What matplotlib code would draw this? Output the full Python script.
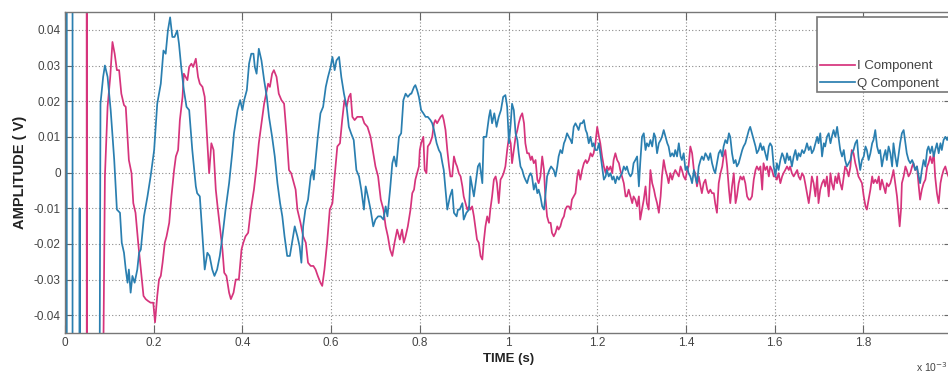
"""I/Q components of a decaying, noisy response (MATLAB-style scope plot)."""

import matplotlib

matplotlib.use("Agg")
import matplotlib.pyplot as plt
from matplotlib.ticker import FuncFormatter

plt.rcParams["font.family"] = ["Liberation Sans", "DejaVu Sans"]

I_COLOR = "#d6347c"
Q_COLOR = "#2a7fb0"
TEXT = "#444444"
FRAME = "#777777"

# time axis is in units of 10^-3 s; +/-0.1 marks off-scale samples at start-up
i_time = [
    0.002, 0.002, 0.003, 0.049, 0.049, 0.0495, 0.083,
    0.090, 0.096, 0.102, 0.107, 0.112, 0.117, 0.122, 0.127, 0.133, 0.137,
    0.141, 0.144, 0.150, 0.154, 0.159, 0.165, 0.171, 0.177, 0.182, 0.187,
    0.193, 0.199, 0.203, 0.208, 0.212, 0.216, 0.220, 0.225, 0.229, 0.235,
    0.240, 0.246, 0.250, 0.255, 0.259, 0.265, 0.268, 0.272, 0.276, 0.280,
    0.285, 0.289, 0.295, 0.300, 0.304, 0.310, 0.315, 0.321, 0.325, 0.330,
    0.335, 0.340, 0.344, 0.350, 0.355, 0.359, 0.364, 0.370, 0.374, 0.380,
    0.385, 0.392,
    0.398, 0.402, 0.407, 0.413, 0.419, 0.426, 0.432, 0.437, 0.443, 0.449,
    0.455, 0.458, 0.462, 0.467, 0.471, 0.477, 0.482, 0.488, 0.494, 0.500,
    0.505, 0.510, 0.516, 0.520, 0.524, 0.531, 0.537, 0.543, 0.548, 0.554,
    0.560, 0.565, 0.570, 0.576, 0.580, 0.585, 0.591, 0.597, 0.603, 0.608,
    0.614, 0.620, 0.625, 0.630, 0.635, 0.640, 0.644, 0.648, 0.653, 0.659,
    0.665, 0.670, 0.675, 0.682, 0.689, 0.695, 0.700, 0.706, 0.712, 0.718,
    0.723, 0.728, 0.733, 0.738, 0.743, 0.749, 0.755, 0.760, 0.764, 0.768,
    0.773, 0.779,
    0.783, 0.787, 0.790, 0.794, 0.798, 0.800, 0.803, 0.808, 0.811, 0.815,
    0.818, 0.823, 0.828, 0.832, 0.835, 0.839, 0.843, 0.847, 0.851, 0.854,
    0.858, 0.862, 0.866, 0.869, 0.873, 0.877, 0.881, 0.884, 0.888, 0.892,
    0.896, 0.899, 0.903, 0.907, 0.911, 0.914, 0.918, 0.922, 0.926, 0.929,
    0.933, 0.937, 0.941, 0.944, 0.948, 0.952, 0.956, 0.959, 0.963, 0.967,
    0.971, 0.974, 0.978, 0.982, 0.986, 0.989, 0.993, 0.997, 1.001, 1.005,
    1.008, 1.012, 1.016, 1.020, 1.023, 1.027, 1.031, 1.035, 1.038, 1.042,
    1.046, 1.050, 1.053, 1.057, 1.061, 1.065, 1.068, 1.072, 1.076, 1.080,
    1.083, 1.087, 1.091, 1.095, 1.098, 1.102, 1.106, 1.110, 1.113, 1.117,
    1.121, 1.125, 1.128, 1.132, 1.136, 1.140, 1.143, 1.147, 1.151, 1.155,
    1.158, 1.162,
    1.166, 1.170, 1.174, 1.177, 1.181, 1.185, 1.189, 1.192, 1.196, 1.200,
    1.204, 1.207, 1.211, 1.215, 1.219, 1.222, 1.226, 1.230, 1.234, 1.237,
    1.241, 1.245, 1.249, 1.252, 1.256, 1.260, 1.264, 1.267, 1.271, 1.275,
    1.279, 1.282, 1.286, 1.290, 1.294, 1.297, 1.301, 1.305, 1.309, 1.312,
    1.316, 1.320, 1.324, 1.328, 1.331, 1.335, 1.339, 1.343, 1.346, 1.350,
    1.354, 1.358, 1.361, 1.365, 1.369, 1.373, 1.376, 1.380, 1.384, 1.388,
    1.391, 1.395, 1.399, 1.403, 1.406, 1.410, 1.414, 1.418, 1.421, 1.425,
    1.429, 1.433, 1.436, 1.440, 1.444, 1.448, 1.451, 1.455, 1.459, 1.463,
    1.466, 1.470, 1.474, 1.478, 1.482, 1.485, 1.489, 1.493, 1.497, 1.500,
    1.504, 1.508, 1.512, 1.515, 1.519, 1.523, 1.527, 1.530, 1.534, 1.538,
    1.542, 1.545, 1.549, 1.553, 1.557, 1.560, 1.564, 1.568,
    1.572, 1.575, 1.579, 1.583, 1.587, 1.590, 1.594, 1.598, 1.602, 1.605,
    1.609, 1.613, 1.617, 1.620, 1.624, 1.628, 1.632, 1.635, 1.639, 1.643,
    1.647, 1.651, 1.654, 1.658, 1.662, 1.666, 1.669, 1.673, 1.677, 1.681,
    1.684, 1.688, 1.692, 1.696, 1.699, 1.703, 1.707, 1.711, 1.714, 1.718,
    1.722, 1.726, 1.729, 1.733, 1.737, 1.741, 1.744, 1.748, 1.752, 1.756,
    1.759, 1.763, 1.767, 1.771, 1.774, 1.778, 1.782, 1.786, 1.789, 1.793,
    1.797, 1.801, 1.805, 1.808, 1.812, 1.816, 1.820, 1.823, 1.827, 1.831,
    1.835, 1.838, 1.842, 1.846, 1.850, 1.853, 1.857, 1.861, 1.865, 1.868,
    1.872, 1.876, 1.880, 1.882, 1.885, 1.887, 1.891, 1.895, 1.898, 1.902,
    1.906, 1.910, 1.913, 1.917, 1.921, 1.925, 1.928, 1.932, 1.936, 1.940,
    1.944, 1.947, 1.951, 1.955, 1.959, 1.962, 1.966, 1.970, 1.974, 1.977,
    1.981, 1.985, 1.989, 1.992,
]
i_amp = [
    0.0165, -0.005, -0.1, -0.1, 0.1, -0.1, -0.1,
    -0.0011, 0.0184, 0.0268, 0.0366, 0.0333, 0.0287, 0.0287, 0.0221, 0.0189, 0.0184,
    0.0100, 0.0035, -0.0002, -0.0086, -0.0113, -0.0197, -0.0272, -0.0346, -0.0355, -0.0360,
    -0.0365, -0.0365, -0.0420, -0.0346, -0.0300, -0.0290, -0.0253, -0.0197, -0.0179, -0.0141,
    -0.0067, 0.0007, 0.0045, 0.0063, 0.0147, 0.0212, 0.0277, 0.0268, 0.0259, 0.0296,
    0.0305, 0.0296, 0.0319, 0.0268, 0.0249, 0.0240, 0.0212, 0.0082, -0.0002, 0.0082,
    0.0063, -0.0048, -0.0095, -0.0160, -0.0216, -0.0281, -0.0290, -0.0337, -0.0355, -0.0337,
    -0.0300, -0.0300,
    -0.0216, -0.0197, -0.0179, -0.0169, -0.0104, -0.0048, 0.0017, 0.0082, 0.0138, 0.0193,
    0.0231, 0.0249, 0.0240, 0.0277, 0.0287, 0.0268, 0.0221, 0.0203, 0.0193, 0.0100,
    0.0007, -0.0002, -0.0030, -0.0048, -0.0104, -0.0141, -0.0179, -0.0197, -0.0253, -0.0262,
    -0.0262, -0.0272, -0.0290, -0.0309, -0.0318, -0.0272, -0.0197, -0.0104, -0.0086, -0.0011,
    0.0073, 0.0082, 0.0147, 0.0203, 0.0184, 0.0212, 0.0221, 0.0156, 0.0147, 0.0156,
    0.0156, 0.0156, 0.0138, 0.0128, 0.0100, 0.0054, 0.0017, -0.0011, -0.0076, -0.0104,
    -0.0151, -0.0179, -0.0216, -0.0234, -0.0197, -0.0160, -0.0188, -0.0160, -0.0197, -0.0179,
    -0.0151, -0.0104,
    -0.0058, -0.0048, -0.0020, -0.0002, 0.0017, 0.0063, 0.0082, 0.0100, 0.0007, -0.0002,
    0.0073, 0.0082, 0.0100, 0.0138, 0.0147, 0.0138, 0.0147, 0.0156, 0.0161, 0.0147,
    0.0119, 0.0063, 0.0017, -0.0011, -0.0011, 0.0045, 0.0026, 0.0017, -0.0002, -0.0011,
    -0.0039, -0.0067, -0.0086, -0.0104, -0.0095, -0.0104, -0.0095, -0.0123, -0.0160, -0.0188,
    -0.0197, -0.0234, -0.0244, -0.0197, -0.0151, -0.0123, -0.0141, -0.0104, -0.0067, -0.0020,
    -0.0011, -0.0030, -0.0086, -0.0020, -0.0011, -0.0002, 0.0017, 0.0063, 0.0100, 0.0082,
    0.0026, 0.0063, 0.0100, 0.0119, 0.0138, 0.0156, 0.0166, 0.0138, 0.0082, 0.0054,
    0.0054, 0.0035, 0.0045, 0.0026, 0.0035, -0.0020, -0.0030, -0.0011, 0.0045, 0.0007,
    -0.0067, -0.0123, -0.0141, -0.0141, -0.0169, -0.0179, -0.0169, -0.0151, -0.0160, -0.0151,
    -0.0132, -0.0123, -0.0104, -0.0095, -0.0095, -0.0104, -0.0076, -0.0067, -0.0058, -0.0011,
    0.0007, -0.0020,
    0.0007, 0.0026, 0.0035, 0.0026, 0.0035, 0.0054, 0.0045, 0.0054, 0.0082, 0.0128,
    0.0100, 0.0082, 0.0045, 0.0017, -0.0002, 0.0017, 0.0007, 0.0017, -0.0002, 0.0035,
    0.0054, 0.0035, 0.0026, 0.0007, -0.0011, -0.0030, -0.0067, -0.0067, -0.0048, -0.0067,
    -0.0086, -0.0067, -0.0076, -0.0095, -0.0067, -0.0132, -0.0104, -0.0076, -0.0039, -0.0086,
    -0.0104, 0.0007, -0.0030, -0.0048, -0.0067, -0.0086, -0.0113, -0.0067, -0.0011, 0.0035,
    0.0007, -0.0011, -0.0030, -0.0002, -0.0020, -0.0002, 0.0007, -0.0002, -0.0011, 0.0017,
    0.0007, -0.0011, -0.0020, 0.0007, 0.0017, 0.0073, 0.0054, 0.0007, -0.0002, -0.0039,
    -0.0011, -0.0039, -0.0058, -0.0030, -0.0020, -0.0048, -0.0058, -0.0048, -0.0058, -0.0058,
    -0.0086, -0.0113, -0.0030, -0.0002, 0.0017, 0.0045, 0.0063, 0.0017, -0.0048, -0.0086,
    -0.0039, -0.0002, -0.0086, -0.0067, -0.0030, -0.0011, -0.0020, -0.0011, -0.0030, -0.0067,
    -0.0076, -0.0076, -0.0067, -0.0020, 0.0007, 0.0017, 0.0007, 0.0017,
    -0.0048, 0.0026, 0.0007, 0.0017, -0.0011, 0.0017, 0.0007, -0.0011, -0.0011, -0.0020,
    -0.0002, -0.0030, -0.0011, -0.0002, 0.0007, 0.0017, 0.0007, 0.0017, -0.0002, -0.0011,
    -0.0002, 0.0007, -0.0011, -0.0020, -0.0002, -0.0011, -0.0030, -0.0058, -0.0086, -0.0048,
    -0.0011, -0.0030, -0.0067, -0.0011, -0.0086, -0.0048, -0.0030, -0.0020, -0.0039, -0.0011,
    -0.0067, -0.0002, -0.0030, -0.0048, -0.0011, -0.0030, -0.0002, -0.0030, -0.0048, -0.0011,
    0.0017, 0.0007, -0.0011, 0.0017, 0.0063, 0.0054, 0.0026, 0.0007, -0.0011, -0.0020,
    -0.0030, -0.0067, -0.0095, -0.0104, -0.0076, -0.0048, -0.0011, -0.0030, -0.0020, -0.0030,
    -0.0011, -0.0048, -0.0020, -0.0039, -0.0058, -0.0030, -0.0039, -0.0030, -0.0011, 0.0007,
    -0.0030, -0.0067, -0.0123, -0.0151, -0.0104, -0.0030, -0.0011, 0.0017, 0.0007, -0.0011,
    -0.0002, 0.0017, 0.0026, 0.0007, 0.0017, -0.0039, -0.0076, -0.0048, -0.0030, -0.0020,
    0.0017, 0.0026, 0.0045, 0.0026, 0.0054, -0.0011, -0.0058, -0.0086, -0.0030, -0.0011,
    0.0007, 0.0017, -0.0002, -0.0011,
]

q_time = [
    0.004, 0.004, 0.017, 0.017, 0.033, 0.033, 0.0332, 0.077,
    0.080, 0.086, 0.090, 0.096, 0.103, 0.111, 0.117, 0.124, 0.128, 0.133,
    0.137, 0.141, 0.144, 0.148, 0.152, 0.157, 0.163, 0.167, 0.171, 0.178,
    0.186, 0.193, 0.201, 0.208, 0.216, 0.222, 0.227, 0.232, 0.237, 0.242,
    0.247, 0.253, 0.257, 0.262, 0.268, 0.274, 0.280, 0.287, 0.295, 0.298,
    0.304, 0.310, 0.315, 0.321, 0.326, 0.332, 0.337, 0.343, 0.349, 0.355,
    0.362, 0.370, 0.377,
    0.381, 0.389, 0.395, 0.400, 0.404, 0.410, 0.415, 0.420, 0.425, 0.428,
    0.432, 0.437, 0.443, 0.449, 0.455, 0.460, 0.467, 0.473, 0.479, 0.485,
    0.490, 0.495, 0.501, 0.507, 0.512, 0.518, 0.524, 0.529, 0.533, 0.537,
    0.542, 0.548, 0.554, 0.558, 0.561, 0.565, 0.570, 0.576, 0.582, 0.588,
    0.593, 0.599, 0.603, 0.608, 0.612, 0.618, 0.623, 0.629, 0.635, 0.640,
    0.645, 0.651, 0.657, 0.663, 0.668, 0.674, 0.678, 0.683, 0.689, 0.695,
    0.700, 0.706, 0.712, 0.718, 0.723, 0.727, 0.733, 0.738, 0.742, 0.747,
    0.753, 0.758, 0.763, 0.768, 0.773, 0.779,
    0.781, 0.787, 0.790, 0.794, 0.798, 0.803, 0.808, 0.813, 0.818, 0.824,
    0.828, 0.832, 0.838, 0.843, 0.847, 0.851, 0.854, 0.858, 0.862, 0.868,
    0.873, 0.877, 0.883, 0.886, 0.890, 0.896, 0.899, 0.905, 0.911, 0.914,
    0.918, 0.922, 0.926, 0.931, 0.935, 0.941, 0.944, 0.950, 0.956, 0.959,
    0.963, 0.968, 0.973, 0.978, 0.983, 0.988, 0.993, 0.997, 1.001, 1.005,
    1.008, 1.012, 1.016, 1.020, 1.023, 1.027, 1.031, 1.035, 1.038, 1.042,
    1.046, 1.050, 1.053, 1.057, 1.061, 1.065, 1.068, 1.072, 1.076, 1.080,
    1.083, 1.087, 1.092, 1.096, 1.102, 1.106, 1.110, 1.113, 1.117, 1.121,
    1.125, 1.128, 1.132, 1.136, 1.140, 1.143, 1.147, 1.151, 1.155, 1.158,
    1.162,
    1.166, 1.170, 1.174, 1.177, 1.181, 1.185, 1.189, 1.192, 1.196, 1.200,
    1.204, 1.207, 1.211, 1.215, 1.219, 1.222, 1.226, 1.230, 1.234, 1.237,
    1.241, 1.245, 1.249, 1.252, 1.256, 1.260, 1.264, 1.267, 1.271, 1.275,
    1.279, 1.282, 1.286, 1.290, 1.294, 1.297, 1.301, 1.305, 1.309, 1.312,
    1.316, 1.320, 1.324, 1.328, 1.331, 1.335, 1.339, 1.343, 1.346, 1.350,
    1.354, 1.358, 1.361, 1.365, 1.369, 1.373, 1.376, 1.380, 1.384, 1.388,
    1.391, 1.395, 1.399, 1.403, 1.406, 1.410, 1.414, 1.418, 1.421, 1.425,
    1.429, 1.433, 1.436, 1.440, 1.444, 1.448, 1.451, 1.455, 1.459, 1.463,
    1.466, 1.470, 1.474, 1.478, 1.482, 1.485, 1.489, 1.493, 1.497, 1.500,
    1.504, 1.508, 1.512, 1.515, 1.519, 1.523, 1.527, 1.530, 1.534, 1.538,
    1.542, 1.545, 1.549, 1.553, 1.557, 1.560, 1.564, 1.568,
    1.572, 1.575, 1.579, 1.583, 1.587, 1.590, 1.594, 1.598, 1.602, 1.605,
    1.609, 1.613, 1.617, 1.620, 1.624, 1.628, 1.632, 1.635, 1.639, 1.643,
    1.647, 1.651, 1.654, 1.658, 1.662, 1.666, 1.669, 1.673, 1.677, 1.681,
    1.684, 1.688, 1.692, 1.696, 1.699, 1.703, 1.707, 1.711, 1.714, 1.718,
    1.722, 1.726, 1.729, 1.733, 1.737, 1.741, 1.744, 1.748, 1.752, 1.756,
    1.759, 1.763, 1.767, 1.771, 1.774, 1.778, 1.782, 1.786, 1.789, 1.793,
    1.797, 1.801, 1.805, 1.808, 1.812, 1.816, 1.820, 1.823, 1.827, 1.831,
    1.835, 1.838, 1.842, 1.846, 1.850, 1.853, 1.857, 1.861, 1.865, 1.868,
    1.872, 1.876, 1.880, 1.883, 1.887, 1.891, 1.895, 1.898, 1.902, 1.906,
    1.910, 1.913, 1.917, 1.921, 1.925, 1.928, 1.932, 1.936, 1.940, 1.944,
    1.947, 1.951, 1.955, 1.959, 1.962, 1.966, 1.970, 1.974, 1.977, 1.981,
    1.985, 1.989, 1.992,
]
q_amp = [
    -0.1, 0.1, 0.1, -0.1, -0.1, -0.010, -0.1, -0.1,
    0.0193, 0.0268, 0.0300, 0.0268, 0.0175, 0.0035, -0.0104, -0.0113, -0.0197, -0.0225,
    -0.0272, -0.0309, -0.0272, -0.0337, -0.0290, -0.0309, -0.0272, -0.0225, -0.0216, -0.0123,
    -0.0067, -0.0011, 0.0063, 0.0193, 0.0249, 0.0342, 0.0333, 0.0398, 0.0435, 0.0380,
    0.0380, 0.0398, 0.0361, 0.0296, 0.0231, 0.0184, 0.0175, 0.0063, -0.0039, -0.0058,
    -0.0067, -0.0179, -0.0272, -0.0225, -0.0234, -0.0272, -0.0290, -0.0272, -0.0234, -0.0179,
    -0.0104, -0.0030, 0.0054,
    0.0110, 0.0175, 0.0203, 0.0175, 0.0203, 0.0231, 0.0305, 0.0333, 0.0333, 0.0296,
    0.0277, 0.0347, 0.0314, 0.0259, 0.0212, 0.0156, 0.0100, 0.0045, -0.0030, -0.0086,
    -0.0123, -0.0179, -0.0234, -0.0234, -0.0197, -0.0151, -0.0179, -0.0207, -0.0253, -0.0151,
    -0.0104, -0.0076, -0.0011, 0.0007, -0.0020, 0.0035, 0.0100, 0.0166, 0.0184, 0.0240,
    0.0268, 0.0296, 0.0324, 0.0287, 0.0314, 0.0324, 0.0268, 0.0221, 0.0184, 0.0128,
    0.0110, 0.0091, 0.0007, -0.0011, -0.0048, -0.0104, -0.0039, -0.0067, -0.0104, -0.0151,
    -0.0132, -0.0123, -0.0123, -0.0132, -0.0095, -0.0123, -0.0048, 0.0026, 0.0045, 0.0017,
    0.0100, 0.0110, 0.0203, 0.0221, 0.0212, 0.0221,
    0.0221, 0.0240, 0.0245, 0.0231, 0.0212, 0.0175, 0.0166, 0.0156, 0.0156, 0.0147,
    0.0138, 0.0119, 0.0082, 0.0063, 0.0054, 0.0026, 0.0007, -0.0048, -0.0104, -0.0067,
    -0.0048, -0.0113, -0.0123, -0.0104, -0.0104, -0.0086, -0.0132, -0.0113, -0.0104, -0.0011,
    -0.0039, -0.0067, -0.0030, 0.0017, 0.0026, -0.0030, 0.0100, 0.0100, 0.0156, 0.0175,
    0.0138, 0.0166, 0.0128, 0.0156, 0.0175, 0.0212, 0.0217, 0.0184, 0.0082, 0.0138,
    0.0193, 0.0175, 0.0110, 0.0091, 0.0054, 0.0017, 0.0007, -0.0011, -0.0020, -0.0030,
    -0.0011, -0.0002, -0.0011, -0.0048, -0.0030, -0.0058, -0.0048, -0.0067, -0.0095, -0.0104,
    -0.0067, -0.0011, 0.0007, 0.0017, 0.0007, -0.0011, 0.0017, 0.0045, 0.0063, 0.0054,
    0.0082, 0.0091, 0.0110, 0.0100, 0.0091, 0.0082, 0.0128, 0.0138, 0.0128, 0.0119,
    0.0138,
    0.0138, 0.0147, 0.0119, 0.0110, 0.0082, 0.0100, 0.0073, 0.0082, 0.0063, 0.0063,
    0.0082, 0.0054, 0.0017, -0.0020, -0.0011, 0.0007, -0.0011, -0.0002, -0.0020, -0.0011,
    -0.0030, -0.0011, -0.0020, -0.0011, -0.0002, 0.0017, 0.0007, 0.0017, -0.0002, -0.0011,
    -0.0002, 0.0026, 0.0035, 0.0045, -0.0039, 0.0026, 0.0100, 0.0110, 0.0063, 0.0082,
    0.0073, 0.0091, 0.0073, 0.0110, 0.0100, 0.0054, 0.0082, 0.0091, 0.0100, 0.0119,
    0.0100, 0.0082, 0.0073, 0.0045, 0.0054, 0.0045, 0.0063, 0.0045, 0.0082, 0.0045,
    0.0035, 0.0054, 0.0007, 0.0017, -0.0002, -0.0011, -0.0030, 0.0007, -0.0011, -0.0030,
    0.0017, 0.0035, 0.0045, 0.0035, 0.0054, 0.0045, 0.0035, 0.0054, 0.0026, 0.0007,
    -0.0002, 0.0026, 0.0054, 0.0063, 0.0045, 0.0073, 0.0091, 0.0082, 0.0110, 0.0100,
    0.0054, 0.0026, 0.0035, 0.0017, 0.0026, 0.0045, 0.0063, 0.0073, 0.0082, 0.0100,
    0.0119, 0.0128, 0.0110, 0.0091, 0.0073, 0.0054, 0.0063, 0.0082,
    0.0063, 0.0073, 0.0054, 0.0035, 0.0073, 0.0082, 0.0073, 0.0017, -0.0011, 0.0026,
    0.0007, 0.0035, 0.0054, 0.0045, 0.0026, 0.0054, 0.0035, 0.0045, 0.0017, 0.0045,
    0.0063, 0.0035, 0.0054, 0.0045, 0.0063, 0.0054, 0.0063, 0.0082, 0.0063, 0.0073,
    0.0054, 0.0063, 0.0082, 0.0100, 0.0082, 0.0110, 0.0045, 0.0082, 0.0073, 0.0100,
    0.0110, 0.0082, 0.0100, 0.0119, 0.0100, 0.0128, 0.0100, 0.0063, 0.0045, 0.0063,
    0.0035, 0.0017, 0.0026, 0.0035, 0.0054, 0.0063, 0.0082, 0.0091, 0.0045, 0.0007,
    0.0035, 0.0045, 0.0073, 0.0063, 0.0035, 0.0054, 0.0082, 0.0091, 0.0119, 0.0073,
    0.0054, 0.0063, 0.0017, 0.0045, 0.0063, 0.0035, 0.0073, 0.0054, 0.0017, 0.0082,
    0.0045, 0.0017, 0.0054, 0.0082, 0.0110, 0.0119, 0.0082, 0.0054, 0.0035, 0.0026,
    0.0035, 0.0026, 0.0007, 0.0017, -0.0011, -0.0030, 0.0007, 0.0035, 0.0017, 0.0063,
    0.0073, 0.0054, 0.0073, 0.0045, 0.0063, 0.0082, 0.0054, 0.0082, 0.0063, 0.0091,
    0.0100, 0.0091, 0.0100,
]

# the 2.0 tick sits on the cropped right edge, so it gets no label
x_ticks = [0, 0.2, 0.4, 0.6, 0.8, 1.0, 1.2, 1.4, 1.6, 1.8]
y_ticks = [-0.04, -0.03, -0.02, -0.01, 0, 0.01, 0.02, 0.03, 0.04]

W, H = 948, 374
fig = plt.figure(figsize=(W / 100, H / 100), dpi=100)
# axes run past the right edge of the picture, as in the cropped original
ax = fig.add_axes([65 / W, 41 / H, 887 / W, 321 / H])

ax.plot(i_time, i_amp, color=I_COLOR, linewidth=1.25, label="I Component")
ax.plot(q_time, q_amp, color=Q_COLOR, linewidth=1.25, label="Q Component")

ax.set_xlim(0, 2.0)
ax.set_ylim(-0.045, 0.045)
ax.set_xticks(x_ticks)
ax.set_yticks(y_ticks)
fmt = FuncFormatter(lambda v, _: f"{round(v, 3) + 0.0:g}")
ax.xaxis.set_major_formatter(fmt)
ax.yaxis.set_major_formatter(fmt)
ax.tick_params(direction="in", top=True, right=True, length=6, width=0.8,
               color="#666666", labelsize=8.5, labelcolor=TEXT, pad=3)
ax.grid(True, linestyle=(0, (1, 2)), color="#8a8a8a", linewidth=0.8)
for spine in ax.spines.values():
    spine.set_color(FRAME)
    spine.set_linewidth(1.0)

ax.set_xlabel("TIME (s)", fontsize=9.5, fontweight="bold", color="#222222", labelpad=3)
ax.set_ylabel("AMPLITUDE ( V)", fontsize=10.5, fontweight="bold", color="#222222", labelpad=5)

# legend box starts at x=817 px and runs off the right edge like the original
leg = ax.legend(loc="upper left", bbox_to_anchor=(817 / W, 1 - 94 / H, 150 / W, 77 / H),
                bbox_transform=fig.transFigure, mode="expand", fancybox=False,
                framealpha=1, edgecolor=FRAME, fontsize=9.5, labelcolor=TEXT,
                title=" ", title_fontsize=26, handlelength=2.7, handletextpad=0.1,
                labelspacing=0.4, borderaxespad=0, borderpad=0.2)
leg.get_frame().set_linewidth(1.2)

fig.text(916 / W, 1 - 367 / H, "x 10$^{-3}$", fontsize=7.5, color=TEXT, va="center")

fig.savefig("out.png", dpi=100)
